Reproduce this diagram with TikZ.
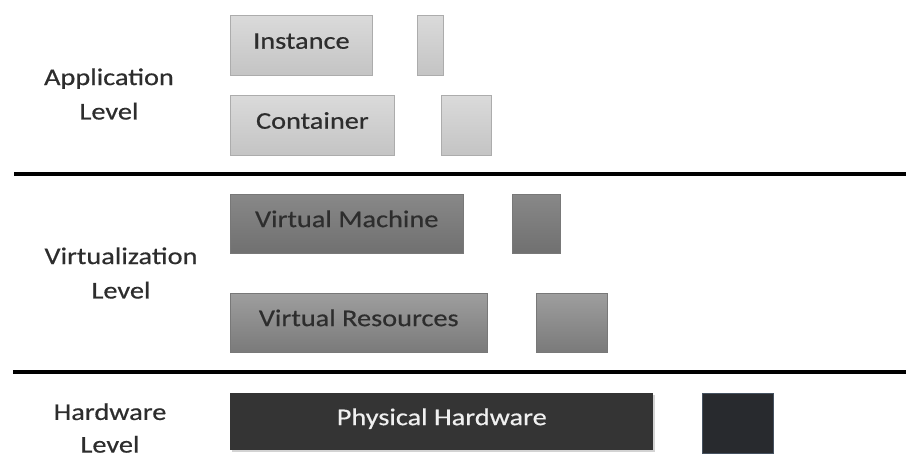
\documentclass[tikz,border=0pt]{standalone}
\usepackage{fontspec}
\setmainfont{Carlito}[FakeStretch=1.18,FakeBold=0.5]
\usetikzlibrary{shadows}

\definecolor{txtgray}{RGB}{45,45,45}
\definecolor{appedge}{RGB}{172,172,172}
\definecolor{apptop}{RGB}{218,218,218}
\definecolor{appbot}{RGB}{196,196,196}
\definecolor{virtedge}{RGB}{120,120,120}
\definecolor{vmtop}{RGB}{136,136,136}
\definecolor{vmbot}{RGB}{112,112,112}
\definecolor{vrtop}{RGB}{158,158,158}
\definecolor{vrbot}{RGB}{122,122,122}
\definecolor{hwfill}{RGB}{52,52,52}
\definecolor{hwbar}{RGB}{40,42,46}
\definecolor{hwedge}{RGB}{70,82,96}

\tikzset{
  levellabel/.style={align=center, text=txtgray, inner sep=0.75pt,
    font=\fontsize{18}{25.8}\selectfont},
  layerbox/.style={anchor=north west, inner sep=0pt, text=txtgray,
    text height=12pt, text depth=7pt, font=\fontsize{18}{22}\selectfont},
  appbox/.style={layerbox, draw=appedge, line width=0.6pt, top color=apptop, bottom color=appbot},
  vmbox/.style={layerbox, draw=virtedge, line width=0.4pt, top color=vmtop, bottom color=vmbot},
  vrbox/.style={layerbox, draw=virtedge, line width=0.4pt, top color=vrtop, bottom color=vrbot},
  hwbox/.style={layerbox, fill=hwfill, text={rgb,255:red,240;green,240;blue,240},
    drop shadow={opacity=0.35, shadow xshift=1pt, shadow yshift=-1.5pt}},
  separator/.style={line width=2.3pt, black},
}

\begin{document}
\begin{tikzpicture}[x=0.75pt,y=0.75pt,yscale=-1,xscale=1]
\useasboundingbox (0,0) rectangle (906,457);

%Application level
\node (inst) [appbox, minimum width=142*0.75pt, minimum height=60*0.75pt] at (230,15) {Instance};
\node (instbar) [appbox, minimum width=26*0.75pt, minimum height=60*0.75pt] at (417,15) {};
\node (cont) [appbox, minimum width=164*0.75pt, minimum height=60*0.75pt] at (230,95) {Container};
\node (contbar) [appbox, minimum width=50*0.75pt, minimum height=60*0.75pt] at (441,95) {};

%Separators
\coordinate (sepAl) at (14,174);
\coordinate (sepAr) at (906,174);
\coordinate (sepBl) at (13,372);
\coordinate (sepBr) at (906,372);
\draw [separator] (sepAl) -- (sepAr);
\draw [separator] (sepBl) -- (sepBr);

%Virtualization level
\node (vm) [vmbox, minimum width=233*0.75pt, minimum height=59*0.75pt] at (230,194) {Virtual Machine};
\node (vmbar) [vmbox, minimum width=48*0.75pt, minimum height=59*0.75pt] at (512,194) {};
\node (vres) [vrbox, minimum width=257*0.75pt, minimum height=59*0.75pt] at (230,293) {Virtual Resources};
\node (vresbar) [vrbox, minimum width=71*0.75pt, minimum height=59*0.75pt] at (536,293) {};

%Hardware level
\node (phys) [hwbox, minimum width=423*0.75pt, minimum height=57*0.75pt] at (230,393) {Physical Hardware};
\node (physbar) [layerbox, fill=hwbar, draw=hwedge, line width=0.6pt, minimum width=71*0.75pt, minimum height=60*0.75pt] at (702,393) {};

% Text Node
\node (applbl) [levellabel] at (109,94) {Application\\Level};
% Text Node
\node (virtlbl) [levellabel] at (121,273) {Virtualization\\Level};
% Text Node
\node (hwlbl) [levellabel, font=\fontsize{18}{24.5}\selectfont] at (110,428) {Hardware\\Level};

\end{tikzpicture}
\end{document}
